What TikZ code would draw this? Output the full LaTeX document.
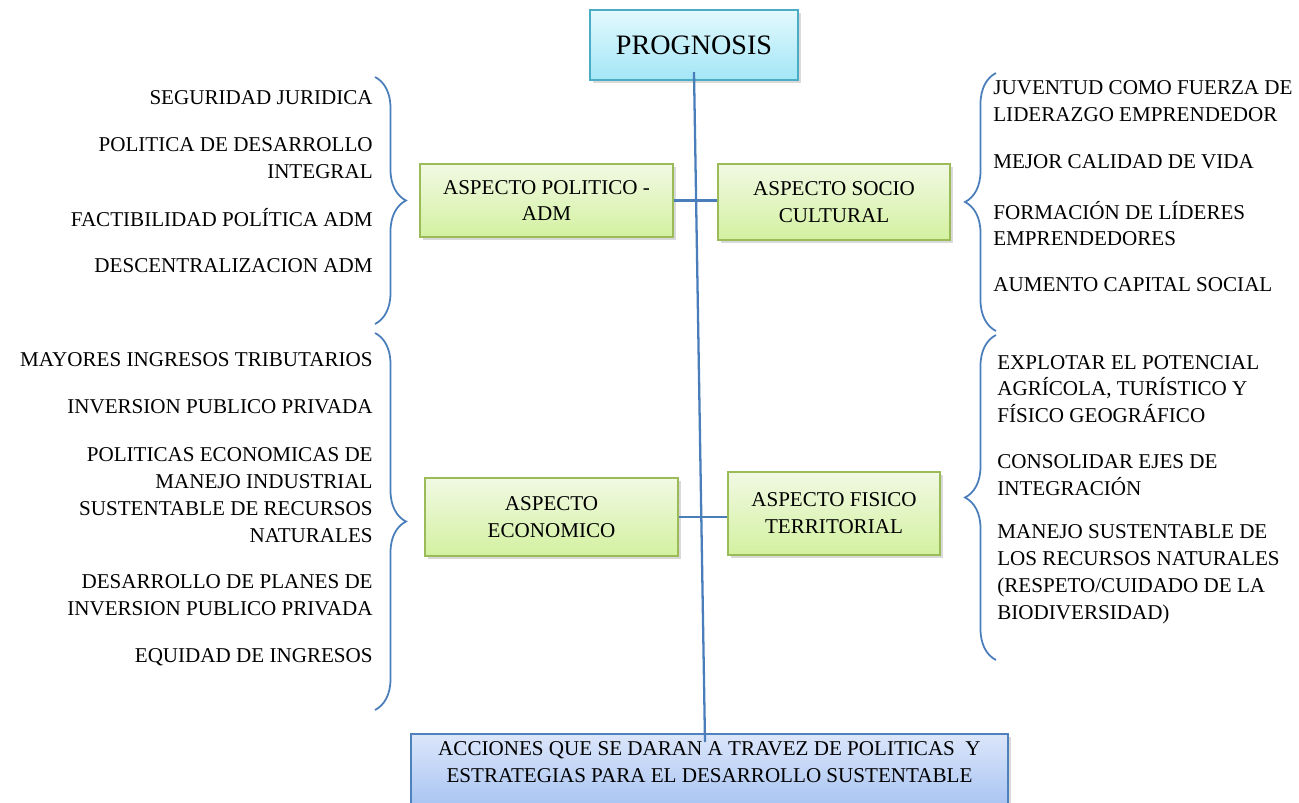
\documentclass[tikz,border=0pt]{standalone}
\usepackage{fontspec}
\setmainfont{Liberation Serif}
\usetikzlibrary{shadows,decorations.pathreplacing}

\definecolor{linkblue}{HTML}{4A7EBB}
\definecolor{progtop}{HTML}{E3F9FD}
\definecolor{progbot}{HTML}{A3E6F6}
\definecolor{progedge}{HTML}{4BACC6}
\definecolor{greentop}{HTML}{F1F9E3}
\definecolor{greenbot}{HTML}{D3F1A0}
\definecolor{greenedge}{HTML}{9BBB59}
\definecolor{bluetop}{HTML}{DCE6FA}
\definecolor{bluebot}{HTML}{A6C3F2}
\definecolor{blueedge}{HTML}{4F81BD}

\begin{document}
\begin{tikzpicture}[x=0.02cm,y=-0.02cm,
  every node/.style={font=\fontsize{12}{15.3}\selectfont},
  box/.style={draw,line width=1pt,align=center,inner sep=0pt,
    drop shadow={opacity=0.3,shadow xshift=1.5pt,shadow yshift=-1.5pt}},
  cyanbox/.style={box,draw=progedge,top color=progtop,bottom color=progbot},
  greenbox/.style={box,draw=greenedge,top color=greentop,bottom color=greenbot},
  bluebox/.style={box,draw=blueedge,top color=bluetop,bottom color=bluebot},
  lefttext/.style={align=right,anchor=east,inner sep=0pt},
  righttext/.style={align=left,anchor=west,inner sep=0pt},
  link/.style={linkblue,line width=1.3pt},
  curly/.style={linkblue,line width=1pt,decorate,decoration={brace,amplitude=0.62cm}}]
  \useasboundingbox (0,0) rectangle (1299,802);

  % boxes
  \node[cyanbox,minimum width=4.16cm,minimum height=1.4cm] (prog) at (694,45) {\fontsize{16}{19}\selectfont PROGNOSIS};
  \node[greenbox,minimum width=5.06cm,minimum height=1.46cm] (pol) at (546.5,200.5) {ASPECTO POLITICO -\\ADM};
  \node[greenbox,minimum width=4.64cm,minimum height=1.52cm] (soc) at (834,202) {ASPECTO SOCIO\\CULTURAL};
  \node[greenbox,minimum width=5.06cm,minimum height=1.56cm] (eco) at (551.5,517) {ASPECTO\\ECONOMICO};
  \node[greenbox,minimum width=4.24cm,minimum height=1.66cm] (fis) at (834,513.5) {ASPECTO FISICO\\TERRITORIAL};
  \node[bluebox,minimum width=11.94cm,minimum height=1.5cm,anchor=north] (acc) at (709.5,733) {};
  \node[align=center,inner sep=0pt] (acctext) at (709.5,762) {ACCIONES QUE SE DARAN A TRAVEZ DE POLITICAS~~Y\\ESTRATEGIAS PARA EL DESARROLLO SUSTENTABLE};

  % connectors
  \coordinate (top) at (694,72);
  \coordinate (bot) at (705,742);
  \draw[link] (top) -- (bot);
  \draw[link] (pol.east) -- (pol.east -| soc.west);
  \draw[link] (eco.east) -- (eco.east -| fis.west);

  % left lists
  \node[lefttext] (seg) at (373,98) {SEGURIDAD JURIDICA};
  \node[lefttext] (pdi) at (373,158.5) {POLITICA DE DESARROLLO\\INTEGRAL};
  \node[lefttext] (fac) at (373,218) {FACTIBILIDAD POLÍTICA ADM};
  \node[lefttext] (des) at (373,266) {DESCENTRALIZACION ADM};
  \node[lefttext] (may) at (373,360) {MAYORES INGRESOS TRIBUTARIOS};
  \node[lefttext] (inv) at (373,407) {INVERSION PUBLICO PRIVADA};
  \node[lefttext] (pec) at (373,495) {POLITICAS ECONOMICAS DE\\MANEJO INDUSTRIAL\\SUSTENTABLE DE RECURSOS\\NATURALES};
  \node[lefttext] (dpl) at (373,595.5) {DESARROLLO DE PLANES DE\\INVERSION PUBLICO PRIVADA};
  \node[lefttext] (equ) at (373,657) {EQUIDAD DE INGRESOS};

  % right lists
  \node[righttext] (juv) at (993,101.5) {JUVENTUD COMO FUERZA DE\\LIDERAZGO EMPRENDEDOR};
  \node[righttext] (mej) at (993,162) {MEJOR CALIDAD DE VIDA};
  \node[righttext] (for) at (993,223.5) {FORMACIÓN DE LÍDERES\\EMPRENDEDORES};
  \node[righttext] (aum) at (993,285) {AUMENTO CAPITAL SOCIAL};
  \node[righttext] (exp) at (997,389) {EXPLOTAR EL POTENCIAL\\AGRÍCOLA, TURÍSTICO Y\\FÍSICO GEOGRÁFICO};
  \node[righttext] (con) at (997,475) {CONSOLIDAR EJES DE\\INTEGRACIÓN};
  \node[righttext] (man) at (997,574) {MANEJO SUSTENTABLE DE\\LOS RECURSOS NATURALES\\(RESPETO/CUIDADO DE LA\\BIODIVERSIDAD)};

  % braces
  \coordinate (lb1) at (375,77);
  \coordinate (lb2) at (375,324);
  \coordinate (lb3) at (375,333);
  \coordinate (lb4) at (375,710);
  \coordinate (rb1) at (996,73);
  \coordinate (rb2) at (996,331);
  \coordinate (rb3) at (996,335);
  \coordinate (rb4) at (996,660);
  \draw[curly] (lb1) -- (lb2);
  \draw[curly] (lb3) -- (lb4);
  \draw[curly] (rb2) -- (rb1);
  \draw[curly] (rb4) -- (rb3);
\end{tikzpicture}
\end{document}
